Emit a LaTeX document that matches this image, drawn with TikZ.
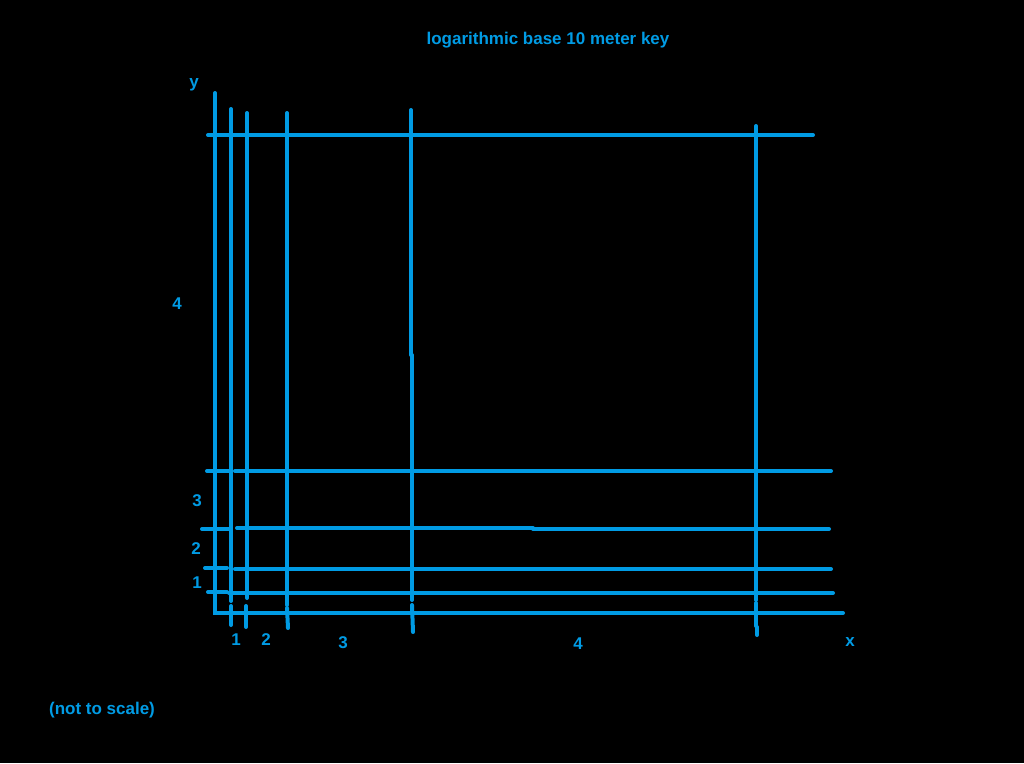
\documentclass[tikz,border=0pt]{standalone}
\usepackage{fontspec}
\setmainfont{Liberation Sans}
\usepackage{xcolor}
\definecolor{keyblue}{RGB}{0,155,228}

\begin{document}
\begin{tikzpicture}[
      x=1pt, y=-1pt,
      stroke/.style={draw=keyblue, line width=4pt, line cap=round},
      lbl/.style={text=keyblue, font=\fontsize{17}{19}\selectfont\bfseries, inner sep=0pt},
    ]
    % ---- canvas ----
    \fill[black] (0,0) rectangle (1024,763);
    \useasboundingbox (0,0) rectangle (1024,763);

    % ---- title and note ----
    \node[lbl] (title) at (548,40) {logarithmic base 10 meter key};
    \node[lbl] (note) at (102,710) {(not to scale)};

    % ---- axes ----
    \draw[stroke] (215,93) -- (215,613) -- (843,613);
    \node[lbl] (ylab) at (194,85) {y};
    \node[lbl] (xlab) at (850,642) {x};

    % ---- vertical lines with ticks below ----
    \draw[stroke] (231,109) -- (231,601);
    \draw[stroke] (231,606) -- (231,625);
    \draw[stroke] (247,113) -- (247,598);
    \draw[stroke] (246,606) -- (246,627);
    \draw[stroke] (287,113) -- (287,605);
    \draw[stroke] (287,608) -- (288,628);
    \draw[stroke] (411,110) -- (411,355);
    \draw[stroke] (412,355) -- (412,600);
    \draw[stroke] (412,605) -- (413,632);
    \draw[stroke] (756,126) -- (756,600);
    \draw[stroke] (756,603) -- (756,626);
    \draw[stroke] (757,627) -- (757,635);

    % ---- horizontal lines ----
    \draw[stroke] (208,135) -- (813,135);
    \draw[stroke] (207,471) -- (229,471);
    \draw[stroke] (235,471) -- (831,471);
    \draw[stroke] (202,529) -- (229,529);
    \draw[stroke] (237,528) -- (533,528);
    \draw[stroke] (533,529) -- (829,529);
    \draw[stroke] (205,568) -- (227,568);
    \draw[stroke] (235,569) -- (831,569);
    \draw[stroke] (208,592) -- (227,592);
    \draw[stroke] (229,593) -- (833,593);

    % ---- y labels ----
    \node[lbl] (y4) at (177,304) {4};
    \node[lbl] (y3) at (197,501) {3};
    \node[lbl] (y2) at (196,549) {2};
    \node[lbl] (y1) at (197,583) {1};

    % ---- x labels ----
    \node[lbl] (x1) at (236,640) {1};
    \node[lbl] (x2) at (266,640) {2};
    \node[lbl] (x3) at (343,643) {3};
    \node[lbl] (x4) at (578,644) {4};
  \end{tikzpicture}
\end{document}
